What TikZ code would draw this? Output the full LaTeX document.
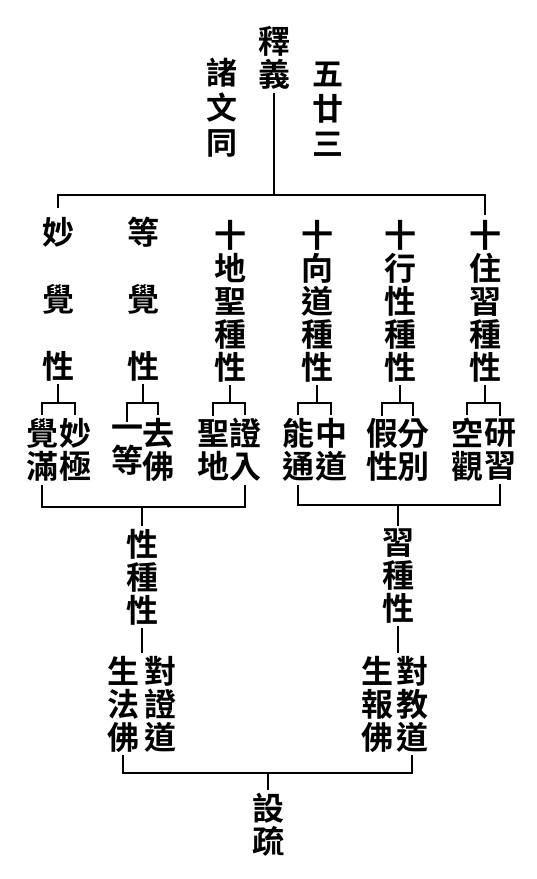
\documentclass[tikz,border=0pt]{standalone}
\usepackage{fontspec}
\newfontfamily\cjk{Noto Sans CJK TC}[BoldFont={* Bold}]
\usetikzlibrary{positioning}
\tikzset{
    mynode/.style = {align=center, inner sep=0pt, outer sep=3pt, text=black, font=\cjk\bfseries\fontsize{32}{33}\selectfont},
    mynodew/.style = {align=center, inner sep=0pt, outer sep=3pt, text=black, font=\cjk\bfseries\fontsize{31}{35}\selectfont},
    edgen/.style = {-, line width=1.5pt, black},
}
\begin{document}
\begin{tikzpicture}[x=1pt,y=-1pt]
\path[use as bounding box] (0,0) rectangle (537,879);

% levels of the brackets
\coordinate (lvtop) at (0,195);
\coordinate (lvone) at (0,403);
\coordinate (lvtwol) at (0,507);
\coordinate (lvtwor) at (0,505);
\coordinate (lvbot) at (0,773);

% head
\node[mynode] at (274,58) (shiyi) {釋\\義};
\node[mynodew] at (222,108) (zwt) {諸\\文\\同};
\node[mynodew] at (328,109) (wns) {五\\廿\\三};

%
\node[mynode] at (58,299) (miao) {妙\\[34pt]覺\\[34pt]性};
\node[mynode] at (143,299) (deng) {等\\[34pt]覺\\[34pt]性};
\node[mynode] at (230,301) (shidi) {十\\地\\聖\\種\\性};
\node[mynode] at (317,301) (shixiang) {十\\向\\道\\種\\性};
\node[mynode] at (400,301) (shixing) {十\\行\\性\\種\\性};
\node[mynode] at (485,301) (shizhu) {十\\住\\習\\種\\性};

\draw[edgen] (shiyi.south) -- (shiyi.south |- lvtop);
\draw[edgen] ([yshift=-13pt]miao.north |- lvtop) -- (miao.north |- lvtop) -- (shizhu.north |- lvtop) -- ([yshift=-20pt]shizhu.north |- lvtop);

%
\node[mynode] at (42,450) (miaol) {覺\\滿};
\node[mynode] at (75,450) (miaor) {妙\\極};
\node[mynode] at (127,450) (dengl) {一\\等};
\node[mynode] at (158,450) (dengr) {去\\佛};
\node[mynode] at (213,450) (shidil) {聖\\地};
\node[mynode] at (245,450) (shidir) {證\\入};
\node[mynode] at (298,450) (shixiangl) {能\\通};
\node[mynode] at (331,450) (shixiangr) {中\\道};
\node[mynode] at (382,450) (shixingl) {假\\性};
\node[mynode] at (413,450) (shixingr) {分\\別};
\node[mynode] at (467,450) (shizhul) {空\\觀};
\node[mynode] at (500,450) (shizhur) {研\\習};

\foreach \c in {miao,deng,shidi,shixiang,shixing,shizhu}{
    \draw[edgen] (\c.south) -- (\c.south |- lvone);
    \draw[edgen] (\c l.north) -- (\c l.north |- lvone) -- (\c r.north |- lvone) -- (\c r.north);
}

%
\node[mynode] at (142,577) (xzx) {性\\種\\性};
\node[mynode] at (398,576) (szx) {習\\種\\性};

\draw[edgen] (miaol.south) -- (miaol.south |- lvtwol) -- (shidir.south |- lvtwol) -- (shidir.south);
\draw[edgen] (xzx.north) -- (xzx.north |- lvtwol);
\draw[edgen] (shixiangl.south) -- (shixiangl.south |- lvtwor) -- (shizhur.south |- lvtwor) -- (shizhur.south);
\draw[edgen] (szx.north) -- (szx.north |- lvtwor);

%
\node[mynode] at (123,704) (sfo) {生\\法\\佛};
\node[mynode] at (160,704) (dzd) {對\\證\\道};
\node[mynode] at (377,704) (sbo) {生\\報\\佛};
\node[mynode] at (412,704) (djd) {對\\教\\道};

\draw[edgen] (xzx.south) -- (xzx.south |- sfo.north);
\draw[edgen] (szx.south) -- (szx.south |- sbo.north);

%
\node[mynode] at (268,825) (shesu) {設\\疏};

\draw[edgen] (sfo.south) -- (sfo.south |- lvbot) -- (djd.south |- lvbot) -- (djd.south);
\draw[edgen] (shesu.north) -- (shesu.north |- lvbot);

\end{tikzpicture}
\end{document}
